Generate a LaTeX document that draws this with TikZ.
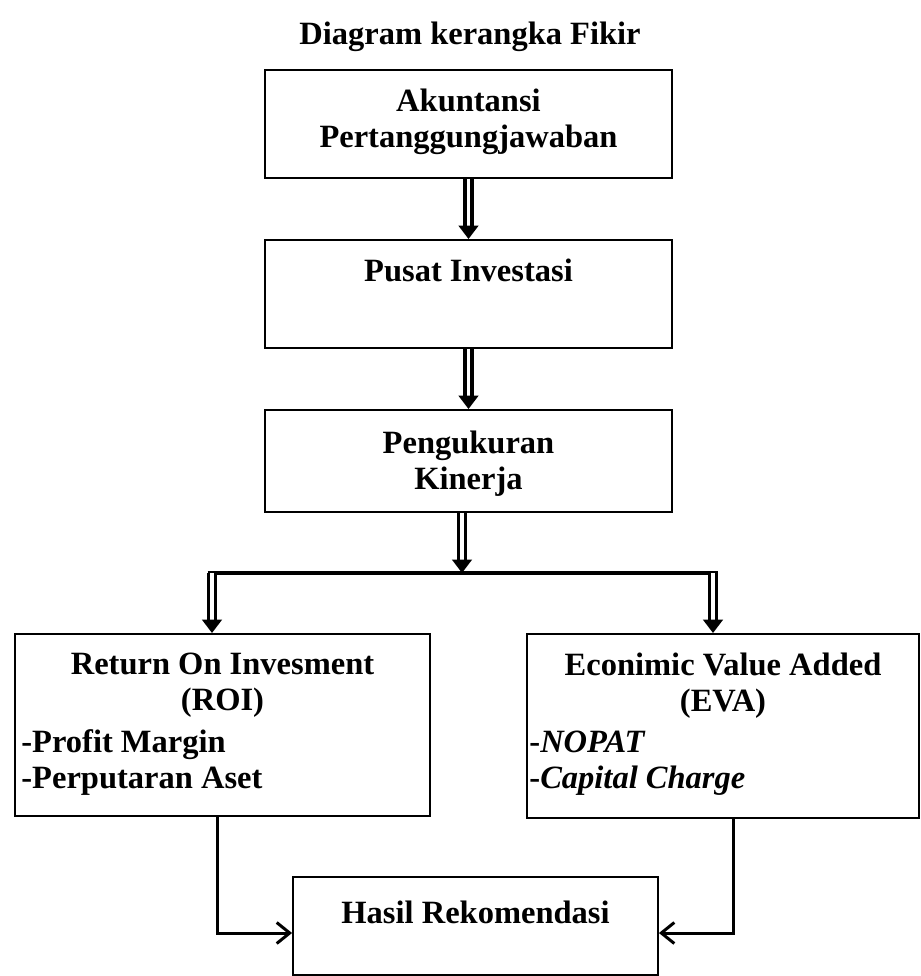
\documentclass[tikz,border=0pt]{standalone}
\usepackage{fontspec}
\setmainfont{Liberation Serif}
\usetikzlibrary{arrows.meta,positioning}

\begin{document}
\begin{tikzpicture}[x=0.02cm, y=-0.02cm,
  box/.style={draw, line width=1.1pt, inner sep=0pt},
  txt/.style={font=\fontsize{18.5pt}{20.5pt}\selectfont\bfseries, align=center, inner sep=0pt, anchor=north},
  lst/.style={font=\fontsize{18.5pt}{20.5pt}\selectfont\bfseries, align=left, inner sep=0pt, anchor=north west},
  dbl/.style={double, double distance=2pt, line width=1.9pt, -{Triangle[length=2.7mm, width=3.9mm]}},
  bar/.style={line width=2.3pt},
  feed/.style={line width=1.7pt, -{Straight Barb[length=2.6mm, width=4.2mm]}}
]
\useasboundingbox (0,0) rectangle (920,976);

\node[txt] (judul) at (470,22) {Diagram kerangka Fikir};

\node[box, minimum width=8.14cm, minimum height=2.16cm] (akt) at (468.5,124) {};
\node[box, minimum width=8.14cm, minimum height=2.16cm] (pusat) at (468.5,294) {};
\node[box, minimum width=8.14cm, minimum height=2.04cm] (ukur) at (468.5,461) {};
\node[box, minimum width=8.3cm, minimum height=3.64cm] (roi) at (222.5,725) {};
\node[box, minimum width=7.84cm, minimum height=3.68cm] (eva) at (723,726) {};
\node[box, minimum width=7.3cm, minimum height=1.96cm] (hasil) at (475.5,926) {};

% texts in the boxes
\node[txt] (akt-t) at ([yshift=-4mm]akt.north) {Akuntansi\\Pertanggungjawaban};
\node[txt] (pusat-t) at ([yshift=-4mm]pusat.north) {Pusat Investasi};
\node[txt] (ukur-t) at ([yshift=-4.4mm]ukur.north) {Pengukuran\\Kinerja};
\node[txt] (roi-t) at ([yshift=-4mm]roi.north) {Return On Invesment\\(ROI)};
\node[lst] (roi-l) at ([xshift=1.4mm, yshift=-2.2mm]roi-t.south -| roi.west) {-Profit Margin\\-Perputaran Aset};
\node[txt] (eva-t) at ([yshift=-4mm]eva.north) {Econimic Value Added\\(EVA)};
\node[lst] (eva-l) at ([xshift=0.6mm, yshift=-2.2mm]eva-t.south -| eva.west) {-\textit{NOPAT}\\-\textit{Capital Charge}};
\node[txt] (hasil-t) at ([yshift=-5mm]hasil.north) {Hasil Rekomendasi};

% connectors
\coordinate (bagi) at (462,573);
\coordinate (kiri) at (212,573);
\coordinate (kanan) at (713,573);

\draw[dbl] (akt) -- (pusat);
\draw[dbl] (pusat) -- (ukur);
\draw[dbl] (ukur.south -| bagi) -- (bagi);
\draw[bar] ([xshift=-0.9mm]kiri) -- ([xshift=0.9mm]kanan);
\draw[dbl] (kiri) -- (kiri |- roi.north);
\draw[dbl] (kanan) -- (kanan |- eva.north);
\draw[feed] ([xshift=-1mm]roi.south) |- ([yshift=-1.4mm]hasil.west);
\draw[feed] ([xshift=2mm]eva.south) |- ([yshift=-1.4mm]hasil.east);
\end{tikzpicture}
\end{document}
